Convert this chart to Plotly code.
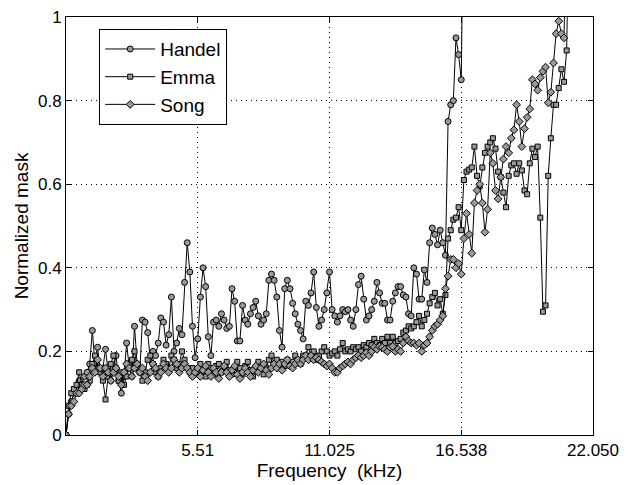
import numpy as np
import plotly.graph_objects as go

# Frequency bins (kHz): 200 intervals over 0..22.05
freq = np.linspace(0, 22.05, 201)

handel = [
    0.0, 0.05, 0.08, 0.10, 0.11, 0.13, 0.12, 0.14, 0.15, 0.17,
    0.25, 0.17, 0.21, 0.15, 0.16, 0.205, 0.15, 0.13, 0.16, 0.19,
    0.13, 0.10, 0.14, 0.22, 0.16, 0.14, 0.26, 0.17, 0.15, 0.275,
    0.27, 0.245, 0.18, 0.20, 0.19, 0.22, 0.28, 0.27, 0.215, 0.24,
    0.33, 0.20, 0.22, 0.255, 0.24, 0.365, 0.46, 0.39, 0.26, 0.185,
    0.23, 0.33, 0.40, 0.355, 0.235, 0.19, 0.27, 0.275, 0.26, 0.29,
    0.275, 0.255, 0.26, 0.35, 0.32, 0.225, 0.225, 0.31, 0.275, 0.265,
    0.29, 0.305, 0.32, 0.285, 0.265, 0.275, 0.29, 0.37, 0.385, 0.37,
    0.33, 0.25, 0.21, 0.35, 0.37, 0.35, 0.315, 0.29, 0.265, 0.25,
    0.23, 0.32, 0.31, 0.34, 0.39, 0.305, 0.26, 0.275, 0.30, 0.34,
    0.39, 0.30, 0.285, 0.27, 0.285, 0.30, 0.295, 0.30, 0.275, 0.26,
    0.30, 0.36, 0.38, 0.325, 0.275, 0.285, 0.30, 0.32, 0.365, 0.34,
    0.315, 0.315, 0.275, 0.275, 0.32, 0.34, 0.355, 0.355, 0.335, 0.33,
    0.29, 0.285, 0.40, 0.385, 0.325, 0.325, 0.395, 0.365, 0.46, 0.495,
    0.48, 0.455, 0.49, 0.46, 0.43, 0.75, 0.79, 0.80, 0.95, 0.91,
    0.85, 1.4,
]

emma = [
    0.0, 0.07, 0.10, 0.11, 0.12, 0.15, 0.12, 0.11, 0.12, 0.13,
    0.17, 0.19, 0.16, 0.15, 0.13, 0.085, 0.14, 0.17, 0.19, 0.16,
    0.13, 0.15, 0.12, 0.14, 0.17, 0.18, 0.20, 0.16, 0.15, 0.13,
    0.15, 0.18, 0.19, 0.17, 0.15, 0.14, 0.16, 0.18, 0.17, 0.16,
    0.19, 0.18, 0.16, 0.17, 0.20, 0.18, 0.16, 0.15, 0.16, 0.145,
    0.15, 0.17, 0.155, 0.14, 0.17, 0.16, 0.145, 0.165, 0.17, 0.15,
    0.165, 0.175, 0.155, 0.145, 0.16, 0.175, 0.16, 0.145, 0.165, 0.175,
    0.155, 0.14, 0.16, 0.175, 0.16, 0.145, 0.16, 0.18, 0.19, 0.17,
    0.18, 0.16, 0.175, 0.165, 0.18, 0.17, 0.175, 0.19, 0.18, 0.17,
    0.19, 0.19, 0.21, 0.19, 0.20, 0.18, 0.19, 0.20, 0.21, 0.20,
    0.19, 0.195, 0.20, 0.19, 0.205, 0.22, 0.20, 0.205, 0.20, 0.21,
    0.205, 0.21, 0.20, 0.215, 0.21, 0.22, 0.215, 0.23, 0.22, 0.215,
    0.23, 0.22, 0.235, 0.22, 0.235, 0.22, 0.225, 0.23, 0.245, 0.25,
    0.26, 0.255, 0.26, 0.27, 0.285, 0.26, 0.275, 0.29, 0.315, 0.33,
    0.34, 0.31, 0.325, 0.29, 0.335, 0.47, 0.49, 0.515, 0.52, 0.545,
    0.49, 0.61, 0.63, 0.635, 0.64, 0.69, 0.62, 0.595, 0.64, 0.675,
    0.69, 0.70, 0.71, 0.685, 0.63, 0.617, 0.58, 0.545, 0.62, 0.645,
    0.65, 0.625, 0.65, 0.633, 0.585, 0.576, 0.65, 0.685, 0.665, 0.69,
    0.52, 0.295, 0.31, 0.62, 0.71, 0.79, 0.79, 0.83, 0.875, 0.845,
    0.92, 1.3,
]

song = [
    0.0, 0.05, 0.07, 0.08, 0.10, 0.10, 0.11, 0.12, 0.12, 0.14,
    0.16, 0.15, 0.18, 0.16, 0.14, 0.16, 0.15, 0.13, 0.15, 0.16,
    0.14, 0.12, 0.15, 0.17, 0.16, 0.14, 0.16, 0.17, 0.15, 0.16,
    0.14, 0.13, 0.15, 0.17, 0.16, 0.14, 0.15, 0.17, 0.16, 0.15,
    0.16, 0.18, 0.17, 0.15, 0.16, 0.17, 0.16, 0.15, 0.14, 0.15,
    0.16, 0.14, 0.155, 0.165, 0.15, 0.14, 0.16, 0.15, 0.135, 0.15,
    0.165, 0.15, 0.14, 0.155, 0.165, 0.145, 0.135, 0.15, 0.16, 0.15,
    0.14, 0.155, 0.165, 0.15, 0.16, 0.17, 0.155, 0.145, 0.16, 0.17,
    0.16, 0.17, 0.155, 0.17, 0.18, 0.165, 0.16, 0.17, 0.18, 0.17,
    0.18, 0.19, 0.18, 0.19, 0.18, 0.185, 0.18, 0.175, 0.17, 0.165,
    0.17, 0.16, 0.15, 0.15, 0.16, 0.165, 0.17, 0.175, 0.17, 0.18,
    0.185, 0.19, 0.185, 0.19, 0.197, 0.19, 0.20, 0.21, 0.205, 0.212,
    0.21, 0.205, 0.20, 0.21, 0.212, 0.20, 0.205, 0.20, 0.22, 0.235,
    0.225, 0.22, 0.22, 0.215, 0.22, 0.20, 0.215, 0.22, 0.235, 0.25,
    0.26, 0.265, 0.275, 0.285, 0.35, 0.38, 0.42, 0.42, 0.40, 0.41,
    0.385, 0.47, 0.53, 0.48, 0.435, 0.555, 0.585, 0.60, 0.555, 0.485,
    0.54, 0.675, 0.65, 0.585, 0.565, 0.617, 0.66, 0.69, 0.675, 0.71,
    0.73, 0.79, 0.75, 0.69, 0.733, 0.76, 0.78, 0.85, 0.84, 0.825,
    0.855, 0.87, 0.88, 0.795, 0.82, 0.89, 0.96, 0.99, 0.96, 0.95,
    1.3,
]

x_tickvals = [5.51, 11.025, 16.538, 22.05]
x_ticktext = ["5.51", "11.025", "16.538", "22.050"]
y_tickvals = [0, 0.2, 0.4, 0.6, 0.8, 1.0]
y_ticktext = ["0", "0.2", "0.4", "0.6", "0.8", "1"]

series = [
    ("Handel", handel, "circle", 6),
    ("Emma", emma, "square", 5),
    ("Song", song, "diamond", 6),
]

fig = go.Figure()
for name, vals, sym, sz in series:
    fig.add_trace(go.Scatter(
        x=freq[:len(vals)], y=vals, name=name, mode="lines+markers",
        line=dict(color="black", width=1),
        marker=dict(symbol=sym, size=sz, color="#999999",
                    line=dict(color="black", width=1)),
        cliponaxis=True,
    ))

font_family = "Liberation Sans, Arial, sans-serif"
fig.update_layout(
    width=620, height=477,
    margin=dict(l=58, r=35, t=9, b=50, autoexpand=False),
    paper_bgcolor="white", plot_bgcolor="white",
    font=dict(family=font_family, size=17, color="black"),
    showlegend=True,
    legend=dict(
        x=0.063, y=0.971, xanchor="left", yanchor="top",
        bgcolor="white", bordercolor="black", borderwidth=1,
        font=dict(size=19), tracegroupgap=0, itemwidth=50,
    ),
)
fig.update_xaxes(
    range=[0, 22.05], tickvals=x_tickvals, ticktext=x_ticktext,
    showline=True, linecolor="black", linewidth=1, mirror="ticks",
    ticks="inside", ticklen=5, tickcolor="black",
    showgrid=True, gridcolor="black", griddash="1px,4px", gridwidth=1,
    zeroline=False, automargin=False, ticklabeloverflow="allow",
    title=dict(text="Frequency\u00a0\u00a0(kHz)", standoff=0, font=dict(size=19)),
)
fig.update_yaxes(
    range=[0, 1], tickvals=y_tickvals, ticktext=y_ticktext,
    showline=True, linecolor="black", linewidth=1, mirror="ticks",
    ticks="inside", ticklen=5, tickcolor="black",
    showgrid=True, gridcolor="black", griddash="1px,4px", gridwidth=1,
    zeroline=False, automargin=False, ticklabeloverflow="allow",
    title=dict(text="Normalized mask", standoff=4, font=dict(size=19)),
)

fig.write_html("out.html")
